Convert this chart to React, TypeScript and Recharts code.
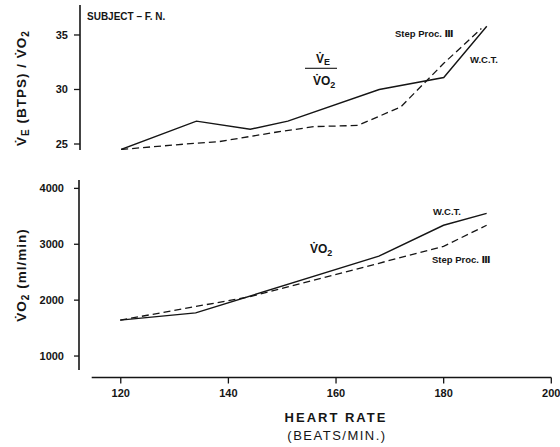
import React from 'react';
import { LineChart, Line, XAxis, YAxis } from 'recharts';

// ---- data ----
const hrWctTop = [120, 134, 144, 151, 168, 180, 188];
const veVo2Wct = [24.5, 27.1, 26.35, 27.1, 30.0, 31.1, 35.8];
const hrStepTop = [120, 132, 138, 149, 156, 164, 172, 180, 187];
const veVo2Step = [24.5, 25.0, 25.2, 26.1, 26.6, 26.7, 28.4, 32.4, 35.6];

const hrWctBottom = [120, 134, 168, 180, 188];
const vo2Wct = [1642, 1773, 2787, 3340, 3553];
const hrStepBottom = [120, 144, 168, 180, 188];
const vo2Step = [1642, 2060, 2660, 2962, 3340];

const hrTicks = [120, 140, 160, 180, 200];
const veVo2Ticks = [25, 30, 35];
const vo2Ticks = [1000, 2000, 3000, 4000];

const zip = (xs: number[], ys: number[]) => xs.map((hr, i) => ({ hr, v: ys[i] }));
const wctTop = zip(hrWctTop, veVo2Wct);
const stepTop = zip(hrStepTop, veVo2Step);
const wctBottom = zip(hrWctBottom, vo2Wct);
const stepBottom = zip(hrStepBottom, vo2Step);

const INK = '#151515';
const FONT = '"Liberation Sans", "DejaVu Sans", Arial, sans-serif';
const tickStyle = { fill: INK, fontSize: 11, fontWeight: 700, fontFamily: FONT };
const axisLine = { stroke: INK, strokeWidth: 1.6 };
const tickLine = { stroke: INK, strokeWidth: 1.3 };

const abs = (top: number, height: number): React.CSSProperties => ({
  position: 'absolute',
  left: 0,
  top,
  width: 560,
  height,
});

const V = 'V\u0307';

export default function App() {
  return (
    <div style={{ position: 'absolute', left: 0, top: 0, width: 560, height: 447, background: '#fff' }}>
      {/* Top panel: VE / VO2 */}
      <div style={abs(0, 160)}>
        <LineChart width={560} height={160} margin={{ top: 5, right: 8.7, bottom: 10, left: 0 }}>
          <XAxis dataKey="hr" type="number" domain={[112.35, 200]} hide allowDataOverflow />
          <YAxis
            type="number"
            domain={[24.45, 37.75]}
            ticks={veVo2Ticks}
            interval={0}
            width={80}
            tickSize={6}
            tickMargin={6}
            axisLine={axisLine}
            tickLine={tickLine}
            tick={tickStyle}
            allowDataOverflow
          />
          <Line data={wctTop} dataKey="v" stroke={INK} strokeWidth={1.4} dot={false} isAnimationActive={false} />
          <Line data={stepTop} dataKey="v" stroke={INK} strokeWidth={1.3} strokeDasharray="7 4" dot={false} isAnimationActive={false} />
        </LineChart>
      </div>

      {/* Bottom panel: VO2 */}
      <div style={abs(170, 210)}>
        <LineChart width={560} height={210} margin={{ top: 10, right: 8.7, bottom: 10, left: 0 }}>
          <XAxis dataKey="hr" type="number" domain={[112.35, 200]} hide allowDataOverflow />
          <YAxis
            type="number"
            domain={[750, 4150]}
            ticks={vo2Ticks}
            interval={0}
            width={79}
            tickSize={5}
            tickMargin={10}
            axisLine={axisLine}
            tickLine={tickLine}
            tick={tickStyle}
            allowDataOverflow
          />
          <Line data={wctBottom} dataKey="v" stroke={INK} strokeWidth={1.4} dot={false} isAnimationActive={false} />
          <Line data={stepBottom} dataKey="v" stroke={INK} strokeWidth={1.3} strokeDasharray="7 4" dot={false} isAnimationActive={false} />
        </LineChart>
      </div>

      {/* Shared heart-rate axis */}
      <div style={abs(360, 87)}>
        <LineChart width={560} height={87} margin={{ top: 7, right: 8.7, bottom: 0, left: 91.7 }}>
          <XAxis
            dataKey="hr"
            type="number"
            domain={[114.6, 200]}
            ticks={hrTicks}
            interval={0}
            height={69.5}
            tickSize={6}
            tickMargin={6}
            axisLine={axisLine}
            tickLine={tickLine}
            tick={tickStyle}
            allowDataOverflow
          />
          <YAxis hide domain={[0, 1]} />
        </LineChart>
      </div>

      {/* Annotations */}
      <svg
        width={560}
        height={447}
        style={{ position: 'absolute', left: 0, top: 0, pointerEvents: 'none' }}
        fontFamily={FONT}
        fill={INK}
      >
        <text x={87} y={20} fontSize={10} fontWeight={700}>SUBJECT – F. N.</text>

        {/* top y label */}
        <text
          transform="translate(26 88) rotate(-90)"
          textAnchor="middle"
          fontSize={13.5}
          fontWeight={700}
          letterSpacing={1}
        >
          <tspan>{V}</tspan>
          <tspan dy={3} fontSize={10}>E</tspan>
          <tspan dy={-3}> (BTPS) / {V}O</tspan>
          <tspan dy={3} fontSize={10}>2</tspan>
        </text>

        {/* bottom y label */}
        <text
          transform="translate(26 275) rotate(-90)"
          textAnchor="middle"
          fontSize={13.5}
          fontWeight={700}
          letterSpacing={1}
        >
          <tspan>{V}O</tspan>
          <tspan dy={3} fontSize={10}>2</tspan>
          <tspan dy={-3}> (ml/min)</tspan>
        </text>

        {/* fraction in top panel */}
        <text x={316} y={63} fontSize={12} fontWeight={700}>
          <tspan>{V}</tspan>
          <tspan dy={2} fontSize={9}>E</tspan>
        </text>
        <line x1={305} x2={337} y1={68.3} y2={68.3} stroke={INK} strokeWidth={1.1} />
        <text x={313} y={85} fontSize={12} fontWeight={700}>
          <tspan>{V}O</tspan>
          <tspan dy={3} fontSize={9}>2</tspan>
        </text>

        <text x={395} y={37} fontSize={9.5} fontWeight={700}>Step  Proc. Ⅲ</text>
        <text x={470} y={63} fontSize={9.5} fontWeight={700}>W.C.T.</text>

        {/* bottom panel labels */}
        <text x={433} y={215} fontSize={9.5} fontWeight={700}>W.C.T.</text>
        <text x={310} y={253} fontSize={12} fontWeight={700}>
          <tspan>{V}O</tspan>
          <tspan dy={3} fontSize={9}>2</tspan>
        </text>
        <text x={432} y={263} fontSize={9.5} fontWeight={700}>Step Proc. Ⅲ</text>

        {/* x axis title */}
        <text x={336} y={422} textAnchor="middle" fontSize={13} fontWeight={700} letterSpacing={2}>HEART RATE</text>
        <text x={337} y={440} textAnchor="middle" fontSize={13} fontWeight={400} letterSpacing={1.5}>(BEATS/MIN.)</text>
      </svg>
    </div>
  );
}
